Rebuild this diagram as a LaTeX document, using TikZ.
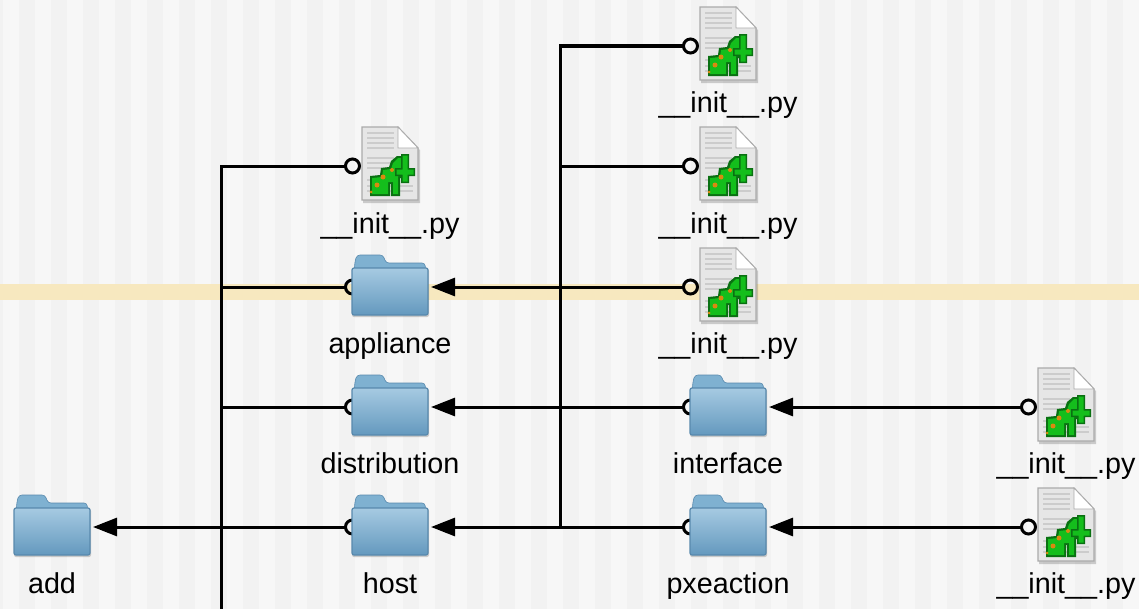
\documentclass[tikz,border=0pt]{standalone}
\usepackage{fontspec}
\setmainfont{Liberation Sans}
\usetikzlibrary{arrows.meta}

\definecolor{stripedark}{HTML}{F2F2F2}
\definecolor{stripelight}{HTML}{F7F7F7}
\definecolor{bandyellow}{HTML}{F7E8BF}
\definecolor{folderedge}{HTML}{5889AD}
\definecolor{folderback}{HTML}{7FB1D1}
\definecolor{foldertop}{HTML}{A6CAE2}
\definecolor{folderbottom}{HTML}{6499BE}
\definecolor{pagefill}{HTML}{E6E6E6}
\definecolor{pageedge}{HTML}{ABABAB}
\definecolor{snakegreen}{HTML}{14BE1C}
\definecolor{snakedark}{HTML}{0A7012}
\definecolor{snakeorange}{HTML}{D98A10}

\tikzset{
  icon/.style = {minimum width = 0.58cm, minimum height = 0.6cm, inner sep = 0, outer sep = 0},
  name label/.style = {anchor = base, inner sep = 0, font = \fontsize{8.17}{10}\selectfont},
  link/.style = {line width = 0.03cm, {Circle[open, length = 0.17cm, width = 0.17cm]}-{Triangle[length = 0.24cm, width = 0.18cm]}},
  branch/.style = {line width = 0.03cm, {Circle[open, length = 0.17cm, width = 0.17cm]}-},
  foldericon/.pic = {
    \fill [black, opacity = 0.18, rounded corners = 0.02cm] (-38, -18) rectangle (39, 30);
    \fill [folderback, draw = folderedge, line width = 0.006cm, rounded corners = 0.03cm] (-37, 0) -- (-35, -26) -- (-33, -32) -- (-7, -32) -- (-4, -24) -- (35, -24) -- (37, 0) -- cycle;
    \draw [top color = foldertop, bottom color = folderbottom, draw = folderedge, line width = 0.012cm, rounded corners = 0.02cm] (-38, -19) rectangle (38, 28);
  },
  fileicon/.pic = {
    \fill [black, opacity = 0.18] (-27, -37) -- (8, -37) -- (30, -16) -- (30, 37) -- (-27, 37) -- cycle;
    \draw [fill = pagefill, draw = pageedge, line width = 0.012cm] (-28, -39) -- (8, -39) -- (28, -18) -- (28, 34) -- (-28, 34) -- cycle;
    \fill [white, draw = pageedge, line width = 0.008cm] (8, -39) -- (8, -18) -- (28, -18) -- cycle;
    \foreach \rowy in {-33, -28, -23, -18, -8, -3, 2, 14, 20, 25}
      \draw [black!20, line width = 0.012cm] (-23, \rowy) -- (4, \rowy);
    \draw [black!20, line width = 0.012cm] (8, 20) -- (23, 20) (8, 25) -- (23, 25);
    \fill [snakedark] (-20, 30) -- (-20, 10) -- (-10, 9) -- (-9, 2) -- (-1, 1) -- (1, -5) -- (7, -10) -- (14, -10) -- (14, 12) -- (10, 12) -- (10, 30) -- (1, 30) -- (1, 18) -- (0, 18) -- (0, 30) -- cycle;
    \fill [snakegreen] (-18, 28) -- (-18, 12) -- (-8, 11) -- (-7, 4) -- (1, 3) -- (3, -3) -- (8, -8) -- (12, -8) -- (12, 10) -- (8, 10) -- (8, 28) -- (3, 28) -- (3, 16) -- (-2, 16) -- (-2, 28) -- cycle;
    \fill [snakedark] (11, -12) rectangle (19, 17) (5, 2) rectangle (25, 10);
    \fill [snakegreen] (12.5, -10.5) rectangle (17.5, 15.5) (6.5, 3.5) rectangle (23.5, 8.5);
    \fill [snakeorange] (-13, 19) circle [radius = 2.5] (-7, 11) circle [radius = 2.5] (2, 4) circle [radius = 2] (-19, 26) circle [radius = 1.5];
  }
}

\begin{document}
\begin{tikzpicture}[x = 0.01cm, y = -0.01cm]
\useasboundingbox (0, 0) rectangle (1139, 609);
\begin{scope}
\clip (0, 0) rectangle (1139, 609);

% striped ground and selected row
\fill [stripedark] (0, 0) rectangle (1139, 609);
\foreach \x in {3, 35, ..., 1123}
  \fill [stripelight] (\x, 0) rectangle (\x + 16, 609);
\fill [bandyellow] (0, 284) rectangle (1139, 300);

% first column
\node [icon] (add) at (52, 527) {};
\node [name label] (addlabel) at (52, 593) {add};

% second column
\node [icon] (initroot) at (390, 166) {};
\node [name label] (initrootlabel) at (390, 233) {\_\_init\_\_.py};
\node [icon] (appliance) at (390, 287) {};
\node [name label] (appliancelabel) at (390, 353) {appliance};
\node [icon] (distribution) at (390, 407) {};
\node [name label] (distributionlabel) at (390, 473) {distribution};
\node [icon] (host) at (390, 527) {};
\node [name label] (hostlabel) at (390, 593) {host};

% third column
\node [icon] (inittop) at (728, 46) {};
\node [name label] (inittoplabel) at (728, 113) {\_\_init\_\_.py};
\node [icon] (initmid) at (728, 166) {};
\node [name label] (initmidlabel) at (728, 233) {\_\_init\_\_.py};
\node [icon] (initappliance) at (728, 287) {};
\node [name label] (initappliancelabel) at (728, 353) {\_\_init\_\_.py};
\node [icon] (interface) at (728, 407) {};
\node [name label] (interfacelabel) at (728, 473) {interface};
\node [icon] (pxeaction) at (728, 527) {};
\node [name label] (pxeactionlabel) at (728, 593) {pxeaction};

% fourth column
\node [icon] (initinterface) at (1066, 407) {};
\node [name label] (initinterfacelabel) at (1066, 473) {\_\_init\_\_.py};
\node [icon] (initpxe) at (1066, 527) {};
\node [name label] (initpxelabel) at (1066, 593) {\_\_init\_\_.py};

% free ends on the two trunks
\coordinate (trunkend) at (221, 609);
\coordinate (trunkappliance) at (221, 287);
\coordinate (trunkdistribution) at (221, 407);
\coordinate (forkmid) at (560, 166);
\coordinate (forkend) at (560, 527);

% connectors, arrows stop just short of the folder
\draw [branch] (initroot.west) -| (trunkend);
\draw [branch] (appliance.west) -- (trunkappliance);
\draw [branch] (distribution.west) -- (trunkdistribution);
\draw [link] (host.west) -- ([xshift = 0.12cm] add.east);
\draw [branch] (inittop.west) -| (forkend);
\draw [branch] (initmid.west) -- (forkmid);
\draw [link] (initappliance.west) -- ([xshift = 0.12cm] appliance.east);
\draw [link] (interface.west) -- ([xshift = 0.12cm] distribution.east);
\draw [link] (pxeaction.west) -- ([xshift = 0.12cm] host.east);
\draw [link] (initinterface.west) -- ([xshift = 0.12cm] interface.east);
\draw [link] (initpxe.west) -- ([xshift = 0.12cm] pxeaction.east);

% icons go on top of the line ends
\foreach \n in {add, appliance, distribution, host, interface, pxeaction}
  \pic at (\n) {foldericon};
\foreach \n in {initroot, inittop, initmid, initappliance, initinterface, initpxe}
  \pic at (\n) {fileicon};
\end{scope}
\end{tikzpicture}
\end{document}
